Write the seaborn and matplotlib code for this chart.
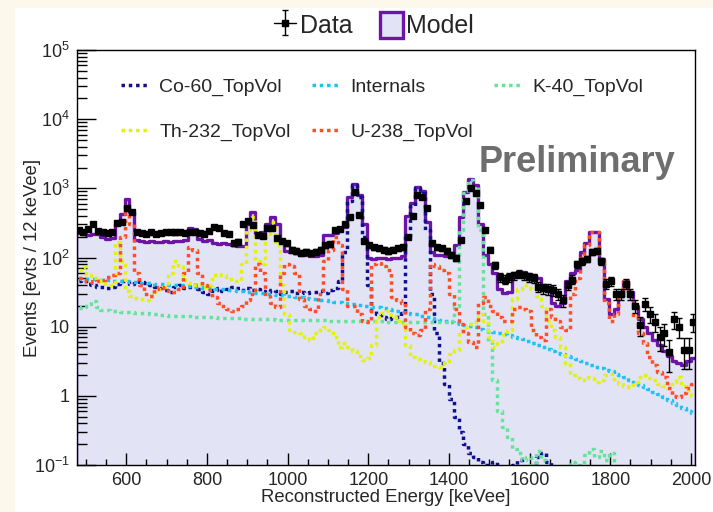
import numpy as np
import pandas as pd
import matplotlib
matplotlib.use("Agg")
import matplotlib.pyplot as plt
import seaborn as sns
from matplotlib.patches import Patch, Rectangle
from matplotlib.lines import Line2D
from matplotlib.ticker import MultipleLocator, LogLocator, FuncFormatter, NullFormatter, FixedLocator

# ---------------- data (12 keV bins) ----------------
bin_width = 12
first_edge = 476
n_bins = 128

model = [225, 218, 212, 222, 216, 195, 186, 190, 300, 420,
         700, 450, 178, 172, 168, 174, 166, 170, 176, 168,
         172, 176, 182, 270, 262, 186, 176, 180, 160, 158,
         162, 155, 150, 148, 146, 300, 450, 228, 232, 300,
         380, 300, 180, 125, 120, 115, 110, 108, 105, 106,
         110, 210, 215, 225, 270, 280, 750, 1150, 800, 300,
         100, 95, 100, 98, 95, 97, 100, 105, 400, 620,
         1060, 900, 330, 120, 110, 108, 105, 110, 150, 380,
         880, 1350, 1100, 300, 110, 80, 60, 35, 31, 32,
         55, 60, 62, 58, 55, 50, 40, 38, 22, 20,
         22, 45, 60, 65, 120, 160, 235, 235, 95, 25,
         15, 18, 28, 45, 32, 20, 13, 10, 8, 6.5,
         5.5, 4.5, 3.8, 3.2, 3.0, 2.8, 3.2, 3.5]

data = [250, 235, 255, 310, 240, 232, 228, 236, 320, 330,
        520, 450, 235, 225, 220, 230, 218, 225, 232, 236,
        230, 235, 228, 235, 232, 225, 222, 240, 275, 270,
        225, 222, 160, 170, 300, 340, 295, 212, 208, 265,
        268, 190, 175, 160, 130, 125, 118, 120, 115, 122,
        130, 150, 155, 250, 260, 300, 380, 880, 410, 175,
        150, 140, 135, 130, 125, 130, 135, 140, 200, 400,
        800, 760, 520, 160, 140, 135, 125, 110, 100, 180,
        650, 1000, 850, 570, 250, 130, 78, 52, 48, 52,
        55, 58, 55, 52, 50, 38, 36, 35, 34, 30,
        24, 40, 48, 80, 88, 95, 120, 125, 88, 42,
        46, 30, 30, 42, 30, 20, 10.6, 21.6, 15.2, 11.7,
        7.1, 8.1, 4.3, 12.8, 10, 4.6, 4.6, 11.7]

co60 = [45, 47, 42, 40, 38, 37, 36, 38, 42, 45,
        44, 42, 45, 44, 43, 40, 38, 36, 34, 32,
        38, 40, 36, 38, 40, 35, 32, 30, 34, 36,
        33, 35, 38, 36, 34, 36, 34, 35, 33, 32,
        34, 33, 30, 32, 33, 31, 32, 31, 32, 32,
        33, 31, 34, 36, 45, 120, 650, 1100, 750, 200,
        40, 17, 15, 14, 13, 14, 14, 16, 200, 550,
        1000, 850, 250, 30, 8, 3, 1.5, 0.9, 0.5, 0.3,
        0.2, 0.15, 0.13, 0.11, 0.1, 0.08, 0.11, 0.06, 0.05, 0.07,
        0.1, 0.12, 0.09, 0.06, 0.08, 0.13, 0.15, 0.11, 0.07, 0.05,
        0.05, 0.05, 0.05, 0.05, 0.05, 0.05, 0.05, 0.05, 0.05, 0.05,
        0.05, 0.05, 0.05, 0.05, 0.05, 0.05, 0.05, 0.05, 0.05, 0.05,
        0.05, 0.05, 0.05, 0.05, 0.05, 0.05, 0.05, 0.05]

internals = [50, 49.5, 49, 48.5, 48, 47.5, 47, 46.5, 46, 45.5,
             45, 44.5, 44, 43.5, 43, 42.5, 42, 41.5, 41, 40.5,
             40, 39.5, 39, 38.5, 38, 37, 36.5, 36, 35.5, 35,
             34.5, 34, 33.5, 33, 32.5, 32, 31.5, 31, 30.5, 30,
             29.5, 29, 28.5, 28, 27.5, 27, 26.5, 26, 25.5, 25,
             24.5, 24, 23.5, 23, 22.5, 22, 21.5, 21, 20.5, 20,
             19.7, 19.4, 19.2, 18.8, 18.2, 17.6, 17, 16.5, 16, 15.5,
             15, 14.5, 14, 13.5, 13, 12.6, 12.2, 11.8, 11.4, 11,
             10.6, 10.2, 9.8, 9.4, 9.0, 8.7, 8.4, 8.1, 7.8, 7.5,
             7.2, 6.9, 6.6, 6.2, 5.8, 5.4, 5.1, 4.8, 4.5, 4.2,
             4.0, 3.8, 3.6, 3.4, 3.2, 3.0, 2.8, 2.65, 2.5, 2.35,
             2.25, 2.1, 2.0, 1.85, 1.7, 1.55, 1.45, 1.35, 1.25, 1.15,
             1.05, 0.95, 0.87, 0.8, 0.73, 0.67, 0.61, 0.56]

k40 = [18.5, 19.5, 21, 23.5, 19, 17.5, 17.3, 17, 16.8, 16.5,
       16.3, 16.2, 16, 15.8, 15.6, 15.4, 15, 14.8, 14.6, 14.5,
       14.4, 14.3, 14.2, 14.1, 14, 13.9, 13.8, 13.7, 13.6, 13.5,
       13.4, 13.3, 13.3, 13.2, 13.1, 13, 12.9, 12.8, 12.8, 12.7,
       12.7, 12.6, 12.6, 12.5, 12.5, 12.5, 12.4, 12.4, 12.4, 12.3,
       12.3, 12.3, 12.2, 12.2, 12.2, 12.1, 12.1, 12, 12, 12,
       12, 11.9, 11.9, 11.9, 11.8, 11.8, 11.8, 11.7, 11.7, 11.7,
       11.7, 11.6, 11.6, 11.6, 11.6, 11.6, 11.8, 12, 20, 250,
       850, 1300, 1050, 250, 15, 6, 1.7, 0.6, 0.35, 0.25,
       0.17, 0.15, 0.12, 0.13, 0.1, 0.16, 0.12, 0.07, 0.05, 0.05,
       0.06, 0.09, 0.11, 0.1, 0.08, 0.14, 0.17, 0.13, 0.16, 0.12,
       0.15, 0.07, 0.05, 0.05, 0.05, 0.05, 0.05, 0.05, 0.05, 0.05,
       0.05, 0.05, 0.05, 0.05, 0.05, 0.05, 0.05, 0.05]

th232 = [66, 72, 55, 50, 48, 45, 42, 40, 170, 90,
         33, 28, 26, 25, 24, 28, 32, 35, 37, 60,
         90, 72, 48, 43, 40, 42, 38, 40, 55, 58,
         55, 52, 45, 45, 80, 250, 380, 90, 80, 200,
         330, 150, 40, 15, 9, 8.5, 8, 7, 6.4, 8,
         9, 10, 9, 7, 5, 5.8, 5, 4.5, 3.8, 3.3,
         3.5, 5.5, 14, 16, 17, 14, 12, 11, 5.5, 3.6,
         3.4, 3.2, 3.1, 2.9, 2.7, 2.6, 3.2, 4, 4.6, 9,
         10, 11, 11.5, 15.5, 12, 7, 5, 5.8, 7.5, 9,
         25, 35, 40, 36, 35, 28, 20, 12, 9, 7,
         5, 3, 2, 1.8, 1.7, 1.9, 1.8, 1.6, 1.7, 2.0,
         2.1, 1.6, 1.5, 1.4, 1.35, 1.6, 1.9, 2.0, 1.8, 1.7,
         1.5, 1.4, 1.3, 1.6, 1.9, 1.4, 1.2, 1.0]

u238 = [50, 48, 45, 44, 46, 48, 52, 55, 60, 200,
        550, 300, 60, 40, 30, 28, 35, 38, 36, 33,
        32, 35, 60, 140, 130, 60, 40, 34, 27, 22,
        20, 18, 17, 18, 20, 24, 30, 80, 60, 28,
        22, 19, 60, 80, 75, 60, 25, 20, 18, 17,
        30, 90, 130, 200, 150, 35, 20, 20, 15, 12,
        11.5, 80, 83, 75, 66, 27, 24, 22, 10, 8,
        7.6, 9, 18, 80, 75, 65, 60, 30, 18, 11,
        8, 6, 5, 22, 27, 20, 17, 14, 12, 12,
        18, 19, 18, 17, 9, 7, 6.5, 18, 14, 12,
        10, 9, 30, 50, 100, 150, 230, 230, 90, 22,
        12, 15, 28, 45, 28, 14, 8, 5.8, 3.6, 2.8,
        2.2, 1.9, 1.3, 1.0, 0.95, 1.1, 1.3, 1.5]

component_names = ["Co-60_TopVol", "Internals", "K-40_TopVol", "Th-232_TopVol", "U-238_TopVol"]
component_values = [co60, internals, k40, th232, u238]
component_colors = ["#10108c", "#1ec2f0", "#66e39a", "#e2f20a", "#ff4d26"]

x_ticks = [600, 800, 1000, 1200, 1400, 1600, 1800, 2000]

# ---------------- styling ----------------
sns.set_style("ticks")
plt.rcParams["font.family"] = ["Liberation Sans", "DejaVu Sans"]
plt.rcParams["mathtext.fontset"] = "custom"
plt.rcParams["mathtext.rm"] = "Liberation Sans"
plt.rcParams["axes.axisbelow"] = False

edges = [first_edge + bin_width * k for k in range(n_bins + 1)]
centers = np.array(edges[:-1]) + bin_width / 2

fig = plt.figure(figsize=(7.13, 5.12), dpi=100)
fig.patch.set_facecolor("#fdf8ec")
fig.patches.append(Rectangle((15 / 713, 0), 1, 504 / 512, transform=fig.transFigure,
                             facecolor="white", edgecolor="none", zorder=-10))
ax = fig.add_axes([77 / 713, 47 / 512, 618 / 713, 415 / 512])
ax.set_facecolor("white")
ax.set_yscale("log")
ax.set_axisbelow(False)

fill_color = "#e3e3f6"
edge_color = "#6c14a8"
df_model = pd.DataFrame({"energy": centers, "counts": model})
sns.histplot(data=df_model, x="energy", weights="counts", bins=edges, element="step",
             fill=True, facecolor=fill_color, edgecolor=edge_color, linewidth=2.4,
             alpha=1, ax=ax, zorder=1)

for name, vals, col in zip(component_names, component_values, component_colors):
    sns.lineplot(x=centers, y=vals, color=col, linestyle=(0, (1, 1.1)), linewidth=2.5,
                 drawstyle="steps-mid", estimator=None, sort=False, ax=ax, zorder=3,
                 legend=False)

data_arr = np.array(data, dtype=float)
eb = ax.errorbar(centers, data_arr, yerr=np.sqrt(data_arr), fmt="s", ms=4.6, color="black",
                 ecolor="black", elinewidth=1, capsize=2.2, zorder=5)

ax.set_xlim(478, 2010)
ax.set_ylim(0.1, 1e5)

# ticks
ax.xaxis.set_major_locator(FixedLocator(x_ticks))
ax.xaxis.set_minor_locator(MultipleLocator(50))
ax.yaxis.set_major_locator(LogLocator(base=10, numticks=20))
ax.yaxis.set_minor_locator(LogLocator(base=10, subs=np.arange(2, 10), numticks=20))
ax.yaxis.set_minor_formatter(NullFormatter())


def yfmt(v, pos):
    e = int(round(np.log10(v)))
    if e == 0:
        return "1"
    if e == 1:
        return "10"
    return r"$\mathregular{10^{%d}}$" % e


ax.yaxis.set_major_formatter(FuncFormatter(yfmt))
ax.tick_params(axis="x", which="major", direction="in", length=8.5, width=1, labelsize=13,
               pad=5, color="black", bottom=True, top=False)
ax.tick_params(axis="x", which="minor", direction="in", length=4, width=1, color="black",
               bottom=True, top=False)
ax.tick_params(axis="y", which="major", direction="in", length=14, width=1, labelsize=13,
               pad=5, color="black", left=True, right=False)
ax.tick_params(axis="y", which="minor", direction="in", length=7, width=1, color="black",
               left=True, right=False)
for s in ax.spines.values():
    s.set_color("black")
    s.set_linewidth(1)
    s.set_zorder(6)

ax.set_xlabel("Reconstructed Energy [keVee]", fontsize=13.3, labelpad=0)
ax.set_ylabel("Events [evts / 12 keVee]", fontsize=13.3, labelpad=-5)

# inner legend
handles = [Line2D([], [], color=c, linestyle=(0, (1, 1.1)), linewidth=2.5) for c in component_colors]
order = [0, 3, 1, 4, 2]
leg = ax.legend([handles[i] for i in order], [component_names[i] for i in order],
                ncol=3, loc="upper left", bbox_to_anchor=(0.072, 0.931), frameon=False,
                fontsize=14, handlelength=1.45, handletextpad=0.5, columnspacing=1.1,
                labelspacing=1.4, borderpad=0, borderaxespad=0)

# top legend
hline = Line2D([], [], color="black", linewidth=1)
model_patch = Patch(facecolor=fill_color, edgecolor=edge_color, linewidth=2.4)
fig.legend([(hline, eb), model_patch], ["Data", "Model"], loc="center",
           bbox_to_anchor=(0.5245, 0.951), ncol=2, frameon=False, fontsize=18,
           handlelength=0.9, handleheight=1.2, handletextpad=0.15, columnspacing=1.1)

fig.text(577 / 713, 1 - 163 / 512, "Preliminary", fontsize=26, fontweight="bold",
         color="#6e6e6e", ha="center", va="center")

fig.savefig("out.png", dpi=100, facecolor=fig.get_facecolor())
